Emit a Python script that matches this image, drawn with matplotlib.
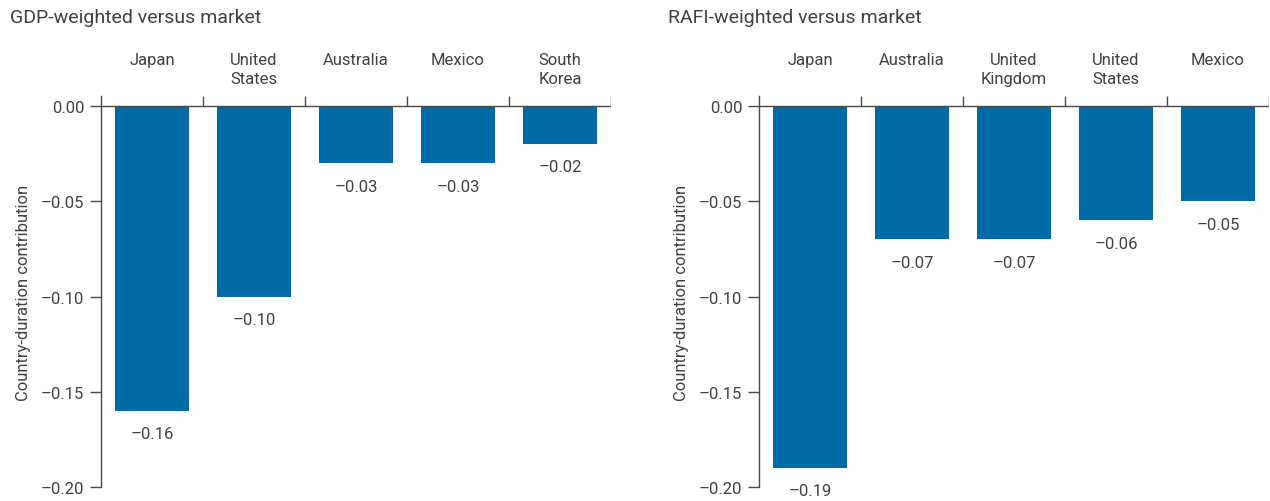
import numpy
import matplotlib
matplotlib.use("Agg")
import matplotlib.pyplot as plt
from matplotlib.ticker import FuncFormatter

# data
gdp_countries = ["Japan", "United\nStates", "Australia", "Mexico", "South\nKorea"]
gdp_values = [-0.16, -0.10, -0.03, -0.03, -0.02]

rafi_countries = ["Japan", "Australia", "United\nKingdom", "United\nStates", "Mexico"]
rafi_values = [-0.19, -0.07, -0.07, -0.06, -0.05]

titles = ["GDP-weighted versus market", "RAFI-weighted versus market"]
y_ticks = [0.0, -0.05, -0.10, -0.15, -0.20]

bar_color = "#006ba4"
text_color = "#404040"
line_color = "#4a4a4a"

plt.rcParams["font.family"] = ["Roboto", "DejaVu Sans"]
plt.rcParams["text.color"] = text_color

W, H = 1270, 502
fig = plt.figure(figsize=(W / 100, H / 100), dpi=100)

y_top = 0.0053
fs = 12


def dash_fmt(v, pos=None):
    s = "%.2f" % abs(v)
    return ("\u2013" + s) if v < -1e-9 else s


def draw_panel(left_px, countries, values, title, title_x_px):
    ax = fig.add_axes([left_px / W, 14 / H, 510 / W, (488 - 97) / H])
    x = numpy.arange(len(countries))
    ax.bar(x, values, width=0.72, color=bar_color, zorder=2)
    ax.set_xlim(-0.5, len(countries) - 0.5)
    ax.set_ylim(-0.20, y_top)

    for s in ["top", "right", "bottom"]:
        ax.spines[s].set_visible(False)
    ax.spines["left"].set_color(line_color)
    ax.spines["left"].set_linewidth(1.0)

    # zero line and category separators
    ax.axhline(0, color=line_color, lw=1.0, zorder=3)
    ax.vlines(numpy.arange(len(countries)) + 0.5, 0, y_top, color=line_color, lw=1.0)

    ax.set_xticks([])
    ax.set_yticks(y_ticks)
    ax.yaxis.set_major_formatter(FuncFormatter(dash_fmt))
    ax.tick_params(axis="y", direction="out", length=8, width=1.0, color=line_color,
                   labelsize=fs, labelcolor=text_color, pad=4)
    ax.set_ylabel("Country-duration contribution", fontsize=fs, color=text_color, labelpad=7)

    for xi, name in zip(x, countries):
        ax.text(xi, 1.0 + (97 - 53) / 391, name, transform=ax.get_xaxis_transform(),
                ha="center", va="top", fontsize=fs, color=text_color, linespacing=1.3)

    for xi, v in zip(x, values):
        ax.annotate(dash_fmt(v), (xi, v), xytext=(0, -11), textcoords="offset points",
                    ha="center", va="top", fontsize=fs, color=text_color)

    fig.text(title_x_px / W, 1 - 18 / H, title, ha="left", va="center",
             fontsize=14, color=text_color)
    return ax


draw_panel(101, gdp_countries, gdp_values, titles[0], 10)
draw_panel(759, rafi_countries, rafi_values, titles[1], 668)

fig.savefig("out.png", dpi=100)
